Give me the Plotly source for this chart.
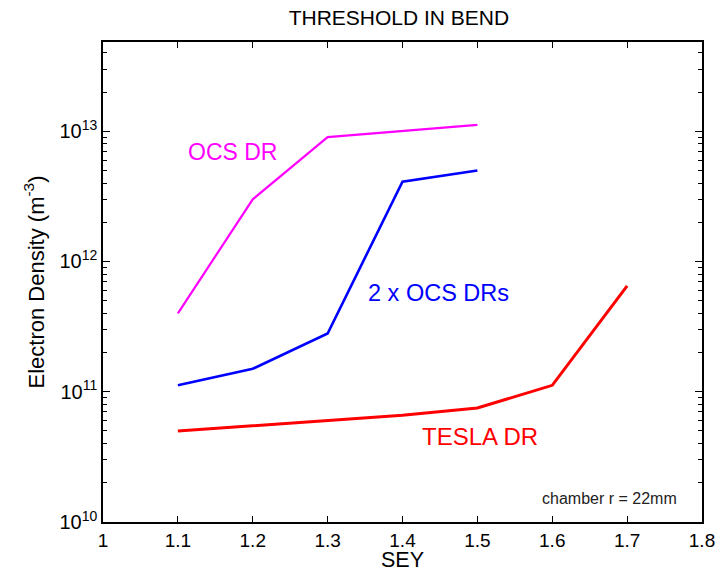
import numpy as np
import plotly.graph_objects as go

sey = [1.1, 1.2, 1.3, 1.4, 1.5]
sey_tesla = [1.1, 1.2, 1.3, 1.4, 1.5, 1.6, 1.7]
ocs_dr = [4.0e11, 3.0e12, 9.0e12, 1.0e13, 1.12e13]
two_ocs_drs = [1.12e11, 1.5e11, 2.8e11, 4.1e12, 5.0e12]
tesla_dr = [5.0e10, 5.5e10, 6.0e10, 6.6e10, 7.5e10, 1.12e11, 6.5e11]

x_ticks = [1, 1.1, 1.2, 1.3, 1.4, 1.5, 1.6, 1.7, 1.8]
x_ticktext = ["1", "1.1", "1.2", "1.3", "1.4", "1.5", "1.6", "1.7", "1.8"]
y_ticks = [1e10, 1e11, 1e12, 1e13]
y_ticktext = ["10<sup>10</sup>", "10<sup>11</sup>", "10<sup>12</sup>", "10<sup>13</sup>"]
y_minor_digits = [2, 3, 4, 5, 6, 7, 8, 9]

FONT = "Liberation Sans, Arial, sans-serif"

# tick-mark positions (tiny offset keeps them separate from the labelled major ticks)
x_tick_marks = [v + 1e-6 for v in x_ticks]
y_tick_marks = [v * (1 + 1e-6) for v in y_ticks] + [d * v for v in y_ticks for d in y_minor_digits]

fig = go.Figure()
fig.add_trace(go.Scatter(x=sey, y=ocs_dr, mode="lines",
                         line=dict(color="#FF00FF", width=2.2), name="OCS DR"))
fig.add_trace(go.Scatter(x=sey, y=two_ocs_drs, mode="lines",
                         line=dict(color="#0000FF", width=2.6), name="2 x OCS DRs"))
fig.add_trace(go.Scatter(x=sey_tesla, y=tesla_dr, mode="lines",
                         line=dict(color="#FF0000", width=3), name="TESLA DR"))

fig.add_annotation(x=1.1113, y=12.84, xref="x", yref="y", text="OCS DR",
                   showarrow=False, xanchor="left",
                   font=dict(color="#FF00FF", size=23, family=FONT))
fig.add_annotation(x=1.3516, y=11.757, xref="x", yref="y", text="2 x OCS DRs",
                   showarrow=False, xanchor="left",
                   font=dict(color="#0000FF", size=23.5, family=FONT))
fig.add_annotation(x=1.4238, y=10.66, xref="x", yref="y", text="TESLA DR",
                   showarrow=False, xanchor="left",
                   font=dict(color="#FF0000", size=24, family=FONT))
fig.add_annotation(x=1.7696, y=10.177, xref="x", yref="y", text="chamber r = 22mm",
                   showarrow=False, xanchor="right",
                   font=dict(color="#222222", size=16, family=FONT))

fig.update_layout(
    width=724, height=572,
    paper_bgcolor="white", plot_bgcolor="rgba(0,0,0,0)",
    margin=dict(l=103, r=22, t=42, b=50, autoexpand=False),
    showlegend=False,
    title=dict(text="THRESHOLD IN BEND", x=0.551, xanchor="center", y=0.969, yanchor="middle",
               font=dict(size=21, color="black", family=FONT)),
    font=dict(family=FONT, color="black"),
)
fig.update_xaxes(
    range=[1, 1.8], tickmode="array", tickvals=x_ticks, ticktext=x_ticktext,
    ticks="inside", ticklen=6, tickwidth=1.2, tickcolor="black",
    showline=True, linecolor="black", linewidth=1.5, mirror="ticks",
    showgrid=False, zeroline=False, automargin=False, layer="above traces",
    minor=dict(ticks="inside", tickmode="array", tickvals=x_tick_marks, ticklen=6,
               tickwidth=1.2, tickcolor="black", showgrid=False),
    tickfont=dict(size=19, color="black", family=FONT),
    title=dict(text="SEY", font=dict(size=21.5, color="black", family=FONT), standoff=10),
)
fig.update_yaxes(
    type="log", range=[10, 13.685], tickmode="array", tickvals=y_ticks, ticktext=y_ticktext,
    ticks="inside", ticklen=7, tickwidth=1.2, tickcolor="black",
    showline=True, linecolor="black", linewidth=1.5, mirror="ticks",
    showgrid=False, zeroline=False, automargin=False, layer="above traces",
    minor=dict(ticks="inside", tickmode="array", tickvals=y_tick_marks, ticklen=4,
               tickwidth=1.1, tickcolor="black", showgrid=False),
    tickfont=dict(size=20, color="black", family=FONT),
    title=dict(text="Electron Density (m<sup>-3</sup>)",
               font=dict(size=22, color="black", family=FONT), standoff=9),
)

fig.write_html("out.html")
